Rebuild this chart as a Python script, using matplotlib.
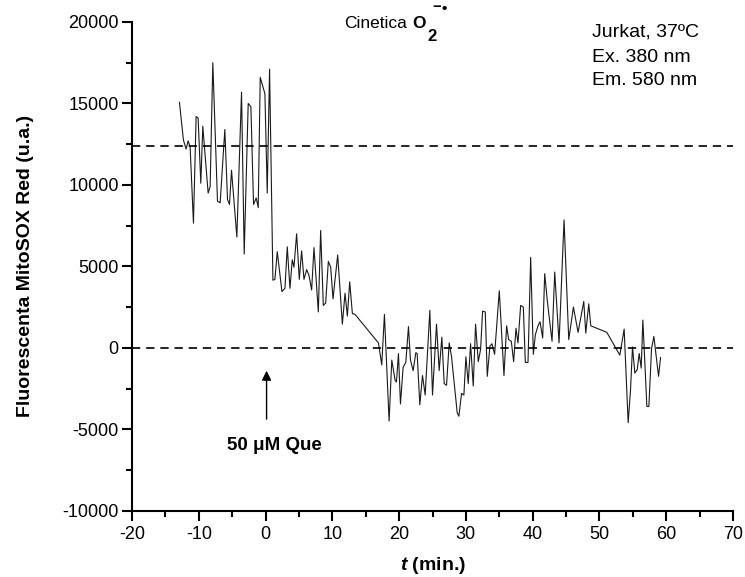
import matplotlib
matplotlib.use("Agg")
import matplotlib.pyplot as plt
from matplotlib.ticker import MultipleLocator

plt.rcParams["font.family"] = ["Liberation Sans", "DejaVu Sans"]
plt.rcParams["axes.unicode_minus"] = False
plt.rcParams["mathtext.fontset"] = "custom"
plt.rcParams["mathtext.rm"] = "Liberation Sans"
plt.rcParams["mathtext.bf"] = "Liberation Sans:bold"
plt.rcParams["mathtext.it"] = "Liberation Sans:bold:italic"

# kinetic trace: time (min) and MitoSOX Red fluorescence (a.u.)
time_min = [
    -12.9, -12.3, -11.9, -11.6, -11.3, -10.8, -10.4, -10.1, -9.7, -9.4,
    -8.6, -8.3, -7.9, -7.2, -6.8, -6.1, -5.7, -5.4, -5.1, -4.3,
    -3.6, -3.2, -2.6, -2.2, -1.8, -1.4, -1.1, -0.8, -0.1, 0.25,
    0.6, 1.1, 1.4, 1.75, 2.45, 2.9, 3.25, 3.65, 4.0, 4.25,
    4.65, 5.05, 5.4, 5.75, 6.15, 6.5, 6.9, 7.25, 7.9, 8.25,
    8.65, 9.0, 9.4, 9.75, 10.1, 10.8, 11.5, 11.9, 12.25, 12.6,
    13.0, 13.4, 16.9, 17.4, 17.8, 18.5, 18.9, 19.4, 19.6, 19.9,
    20.2, 20.6, 21.0, 21.4, 21.7, 22.1, 22.5, 22.7, 23.1, 23.5,
    23.9, 24.6, 25.0, 25.6, 26.0, 26.4, 26.75, 27.1, 27.5, 27.85,
    28.7, 28.95, 29.35, 29.7, 30.0, 30.35, 30.7, 31.1, 31.45, 31.85,
    32.2, 32.5, 32.9, 33.2, 33.6, 33.9, 34.3, 35.0, 35.7, 36.1,
    36.4, 36.8, 37.15, 37.5, 37.8, 38.2, 38.6, 38.9, 39.3, 39.7,
    40.1, 40.4, 40.8, 41.1, 41.5, 41.8, 42.2, 42.9, 43.3, 43.95,
    44.7, 45.4, 46.1, 46.8, 47.65, 47.95, 48.4, 48.7, 51.1, 53.05,
    53.7, 54.3, 54.65, 54.95, 55.3, 55.65, 55.95, 56.25, 56.5, 57.1,
    57.4, 57.8, 58.15, 58.85, 59.15,
]
fluor = [
    15070, 12750, 12200, 12700, 12350, 7650, 14200, 14100, 10100, 13600,
    9500, 9900, 17500, 9000, 8900, 13400, 9100, 8800, 10900, 6800,
    15700, 5750, 15000, 14800, 8800, 9200, 8600, 16600, 15600, 9500,
    17100, 4150, 4200, 5900, 3450, 3650, 6200, 3650, 5400, 4950,
    7000, 4200, 5950, 4200, 4800, 4450, 3550, 6150, 2200, 7200,
    2600, 2750, 5300, 4950, 3000, 5700, 1450, 3350, 1950, 4050,
    2100, 2050, 300, -1050, 2050, -4500, -750, -2000, -2100, -350,
    -3450, -1200, -900, 1300, -750, -1400, -300, -350, -3500, -1700,
    -2900, 2300, -2900, 1450, -1400, 650, -2200, -2300, 300, -550,
    -4000, -4200, -2800, -2900, -550, -2200, 250, -2350, 1450, -850,
    -100, 2250, 2200, -1750, 100, 250, -400, 3500, -1700, 1350,
    500, 400, -850, 1200, 300, 2600, 2500, -900, -900, 5550,
    -400, 800, 1350, 1600, 600, 4550, 2850, 400, 4650, 300,
    7850, 500, 2500, 950, 2850, 900, 2700, 1350, 950, -450,
    1150, -4600, -2600, 50, -1550, -1350, -350, -1250, 1700, -3600,
    -3600, -50, 700, -1750, -600,
]

# reference levels (before treatment and baseline)
ref_levels = [12400, 0]

# addition of quercetin
que_time = 0.15
info_lines = ["Jurkat, 37ºC", "Ex. 380 nm", "Em. 580 nm"]

fig = plt.figure(figsize=(7.45, 5.77), dpi=100)
ax = fig.add_axes([0.1772, 0.1149, 0.8067, 0.8470])

ax.plot(time_min, fluor, color="#1a1a1a", linewidth=0.8)
for level in ref_levels:
    ax.axhline(level, color="black", linewidth=1.2, linestyle=(0, (5, 3.5)))

ax.set_xlim(-20, 70)
ax.set_ylim(-10000, 20000)
ax.xaxis.set_major_locator(MultipleLocator(10))
ax.xaxis.set_minor_locator(MultipleLocator(5))
ax.yaxis.set_major_locator(MultipleLocator(5000))
ax.yaxis.set_minor_locator(MultipleLocator(2500))

for side in ("top", "right"):
    ax.spines[side].set_visible(False)
for side in ("left", "bottom"):
    ax.spines[side].set_linewidth(1.5)

ax.tick_params(which="major", direction="out", length=7, width=1.5, labelsize=13)
ax.tick_params(which="minor", direction="out", length=4, width=1.5)
ax.tick_params(axis="x", which="major", pad=4)
ax.tick_params(axis="y", which="major", pad=2.5)

ax.set_ylabel("Fluorescenta MitoSOX Red (u.a.)", fontsize=14, fontweight="bold")
ax.set_xlabel(r"$\mathit{t}$ (min.)", fontsize=14, fontweight="bold")
ax.yaxis.set_label_coords(-0.163, 0.5)
ax.xaxis.set_label_coords(0.5, -0.09)

ax.annotate(
    "", xy=(que_time, -1240), xytext=(que_time, -4550),
    arrowprops=dict(arrowstyle="-|>", color="black", lw=1.0,
                    mutation_scale=14),
)
ax.text(1.3, -6280, "50 μM Que", fontsize=13.5, fontweight="bold",
        ha="center", va="baseline")

# title: Cinetica O2 (superoxide radical anion), pieces placed by hand
title_kw = dict(ha="left", va="baseline", clip_on=False)
ax.text(11.8, 19630, "Cinetica", fontsize=12.5, **title_kw)
ax.text(22.0, 19630, "O", fontsize=12.5, fontweight="bold", **title_kw)
ax.text(24.2, 18850, "2", fontsize=12, fontweight="bold", **title_kw)
ax.text(25.0, 20675, "\u2212", fontsize=10.5, fontweight="bold", **title_kw)
ax.text(26.4, 20550, "\u2022", fontsize=11, fontweight="bold", **title_kw)

for line, y in zip(info_lines, [19080, 17540, 16130]):
    ax.text(48.9, y, line, fontsize=14, ha="left", va="baseline")

fig.savefig("out.png", dpi=100)
